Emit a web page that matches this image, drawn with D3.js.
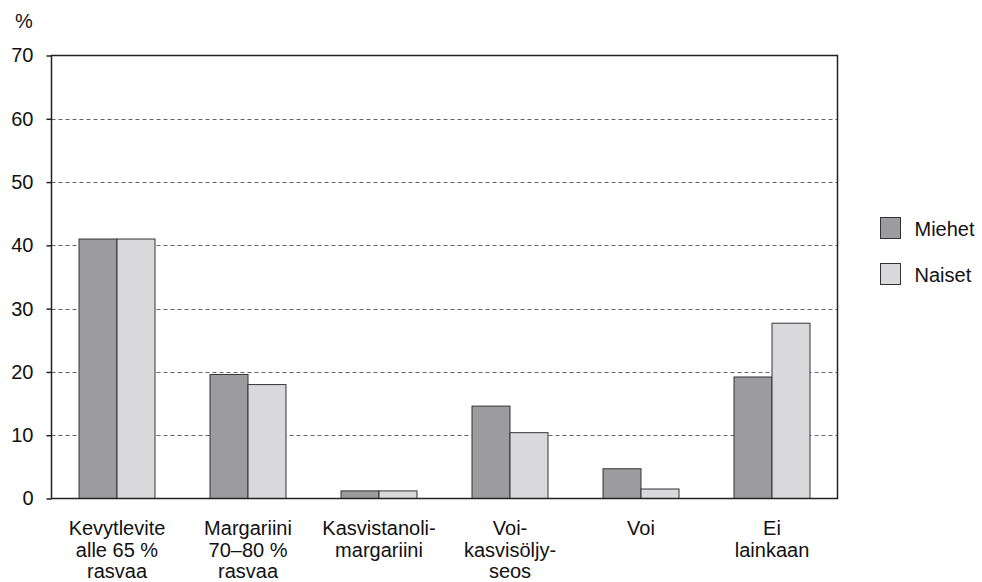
<!DOCTYPE html>
<html><head><meta charset="utf-8">
<script src="https://cdn.jsdelivr.net/npm/d3@7"></script>
<style>body{margin:0;background:#fff}svg{display:block}text{font-family:"Liberation Sans",Arial,sans-serif;fill:#111}</style>
</head><body><svg id="c" width="982" height="582"></svg>
<script>
const categories = [["Kevytlevite","alle 65 %","rasvaa"],["Margariini","70–80 %","rasvaa"],["Kasvistanoli-","margariini"],["Voi-","kasvisöljy-","seos"],["Voi"],["Ei","lainkaan"]];
const seriesNames = ["Miehet","Naiset"];
const miehet = [41.0, 19.6, 1.2, 14.6, 4.7, 19.2];
const naiset = [41.0, 18.0, 1.2, 10.4, 1.5, 27.7];
const yTicks = [0,10,20,30,40,50,60,70];
const colors = ["#9c9c9e","#d9d9db"];

const svg = d3.select("#c");
const L=51.5, R=837.5, T=55.5, B=498.5;
const x = d3.scaleBand().domain(d3.range(categories.length)).range([L,R]).paddingInner(0.42).paddingOuter(0.21);
const xs = d3.scaleBand().domain(seriesNames).range([0,x.bandwidth()]);
const y = d3.scaleLinear().domain([0,70]).range([B,T]);

// grid
svg.append("g").selectAll("line").data(yTicks.filter(d=>d>0&&d<70)).join("line")
  .attr("x1",L).attr("x2",R).attr("y1",d=>Math.round(y(d))+0.5).attr("y2",d=>Math.round(y(d))+0.5)
  .attr("stroke","#666").attr("stroke-dasharray","4,3").attr("stroke-width",1);

// bars
const data = [miehet,naiset];
seriesNames.forEach((s,si)=>{
  svg.append("g").selectAll("rect").data(data[si]).join("rect")
    .attr("x",(d,i)=>x(i)+xs(s)).attr("width",xs.bandwidth())
    .attr("y",d=>y(d)).attr("height",d=>B-y(d))
    .attr("fill",colors[si]).attr("stroke","#333").attr("stroke-width",1);
});

// frame
svg.append("rect").attr("x",L).attr("y",T).attr("width",R-L).attr("height",B-T)
  .attr("fill","none").attr("stroke","#222").attr("stroke-width",1.5);

// y axis
const ya = svg.append("g").attr("transform",`translate(${L},0)`)
  .call(d3.axisLeft(y).tickValues(yTicks).tickSize(5).tickPadding(13));
ya.select(".domain").remove();
ya.selectAll("line").attr("stroke","#222").attr("stroke-width",1.5);
ya.selectAll("text").style("font-size","20px").attr("fill","#111").style("font-family","Liberation Sans, Arial, sans-serif");

svg.append("text").attr("x",15).attr("y",28).style("font-size","20px").text("%");

// x labels
const xl = svg.append("g").selectAll("text").data(categories).join("text")
  .attr("text-anchor","middle").style("font-size","20px")
  .attr("transform",(d,i)=>`translate(${x(i)+x.bandwidth()/2},535)`);
xl.selectAll("tspan").data(d=>d).join("tspan").attr("x",0).attr("dy",(d,i)=>i?21.5:0).text(d=>d);

// legend
const lg = svg.append("g").selectAll("g").data(seriesNames).join("g")
  .attr("transform",(d,i)=>`translate(880.5,${217.5+i*46})`);
lg.append("rect").attr("width",20).attr("height",21).attr("fill",(d,i)=>colors[i]).attr("stroke","#333");
lg.append("text").attr("x",34).attr("y",18).style("font-size","20px").text(d=>d);
</script></body></html>
